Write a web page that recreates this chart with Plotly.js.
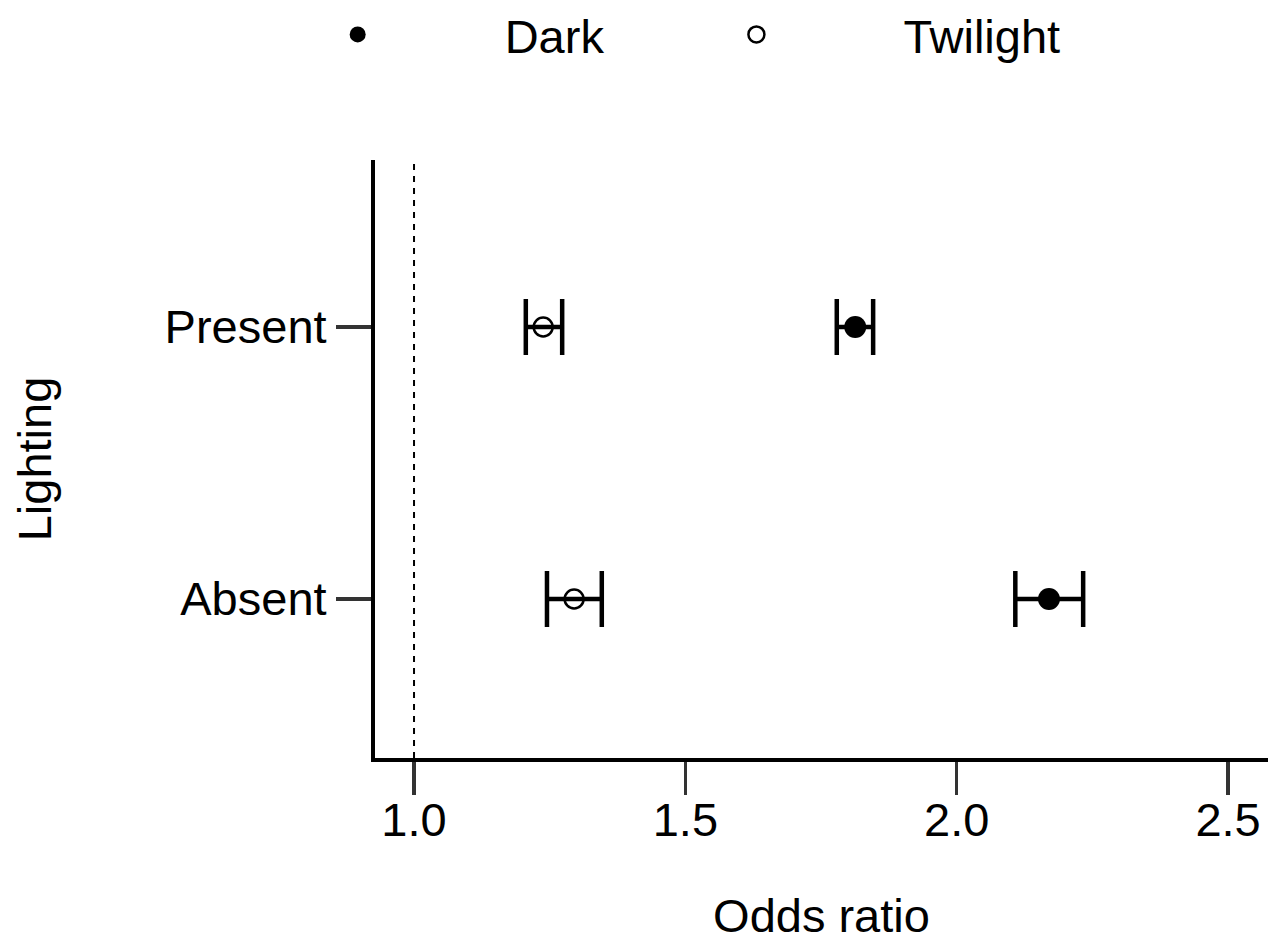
<!DOCTYPE html>
<html>
<head>
<meta charset="utf-8">
<script src="https://cdn.plot.ly/plotly-3.0.1.min.js"></script>
<style>html,body{margin:0;padding:0;background:#fff;}#chart{width:1273px;height:942px;}</style>
</head>
<body>
<div id="chart"></div>
<script>
// Data
var categories = ['Absent', 'Present'];
var darkOR = [2.17, 1.813];
var darkLow = [2.108, 1.779];
var darkHigh = [2.233, 1.846];
var twilightOR = [1.295, 1.238];
var twilightLow = [1.245, 1.206];
var twilightHigh = [1.346, 1.273];
var xTickVals = [1.0, 1.5, 2.0, 2.5];
var xTickText = ['1.0', '1.5', '2.0', '2.5'];
var refLine = 1.0;

function plus(est, hi) { return est.map(function (v, i) { return hi[i] - v; }); }
function minus(est, lo) { return est.map(function (v, i) { return v - lo[i]; }); }

var FONT = 'Liberation Sans, Arial, sans-serif';

var dark = {
  type: 'scatter', mode: 'markers', name: 'Dark',
  x: darkOR, y: categories,
  marker: { symbol: 'circle', size: 22, color: '#000' },
  error_x: { type: 'data', symmetric: false, array: plus(darkOR, darkHigh), arrayminus: minus(darkOR, darkLow),
             color: '#000', thickness: 4.5, width: 28 }
};
var twilight = {
  type: 'scatter', mode: 'markers', name: 'Twilight',
  x: twilightOR, y: categories,
  marker: { symbol: 'circle-open', size: 19, color: '#000', line: { width: 2.5, color: '#000' } },
  error_x: { type: 'data', symmetric: false, array: plus(twilightOR, twilightHigh), arrayminus: minus(twilightOR, twilightLow),
             color: '#000', thickness: 4.5, width: 28 }
};

var layout = {
  width: 1273, height: 942,
  margin: { l: 375, r: 5, t: 160, b: 184 },
  paper_bgcolor: '#fff', plot_bgcolor: '#fff',
  font: { family: FONT, size: 47, color: '#000' },
  showlegend: true,
  legend: {
    orientation: 'h', xref: 'container', x: 0.1655, xanchor: 'left',
    yref: 'container', y: 0.963, yanchor: 'middle',
    itemwidth: 284, font: { family: FONT, size: 47, color: '#000' },
    bgcolor: 'rgba(0,0,0,0)', traceorder: 'normal'
  },
  xaxis: {
    range: [0.9281, 2.5736], tickmode: 'array', tickvals: xTickVals, ticktext: xTickText,
    showline: true, linecolor: '#000', linewidth: 4, mirror: false,
    ticks: 'outside', ticklen: 33, tickwidth: 3.5, tickcolor: '#333',
    showgrid: false, zeroline: false, ticklabelstandoff: -15,
    tickfont: { family: FONT, size: 47, color: '#000' },
    title: { text: 'Odds ratio', font: { family: FONT, size: 47, color: '#000' }, standoff: 55 },
    automargin: false
  },
  yaxis: {
    type: 'category', categoryorder: 'array', categoryarray: categories,
    range: [-0.5846, 1.614],
    showline: true, linecolor: '#000', linewidth: 4,
    ticks: 'outside', ticklen: 35, tickwidth: 3.5, tickcolor: '#333',
    showgrid: false, zeroline: false,
    tickfont: { family: FONT, size: 47, color: '#000' },
    title: { text: 'Lighting', font: { family: FONT, size: 47, color: '#000' }, standoff: 99 },
    automargin: false
  },
  shapes: [{
    type: 'line', xref: 'x', yref: 'paper', x0: refLine, x1: refLine, y0: 0, y1: 1,
    line: { color: '#000', width: 2, dash: '6px,6px' }, layer: 'below'
  }]
};

Plotly.newPlot('chart', [dark, twilight], layout, { displayModeBar: false, staticPlot: true });
</script>
</body>
</html>
